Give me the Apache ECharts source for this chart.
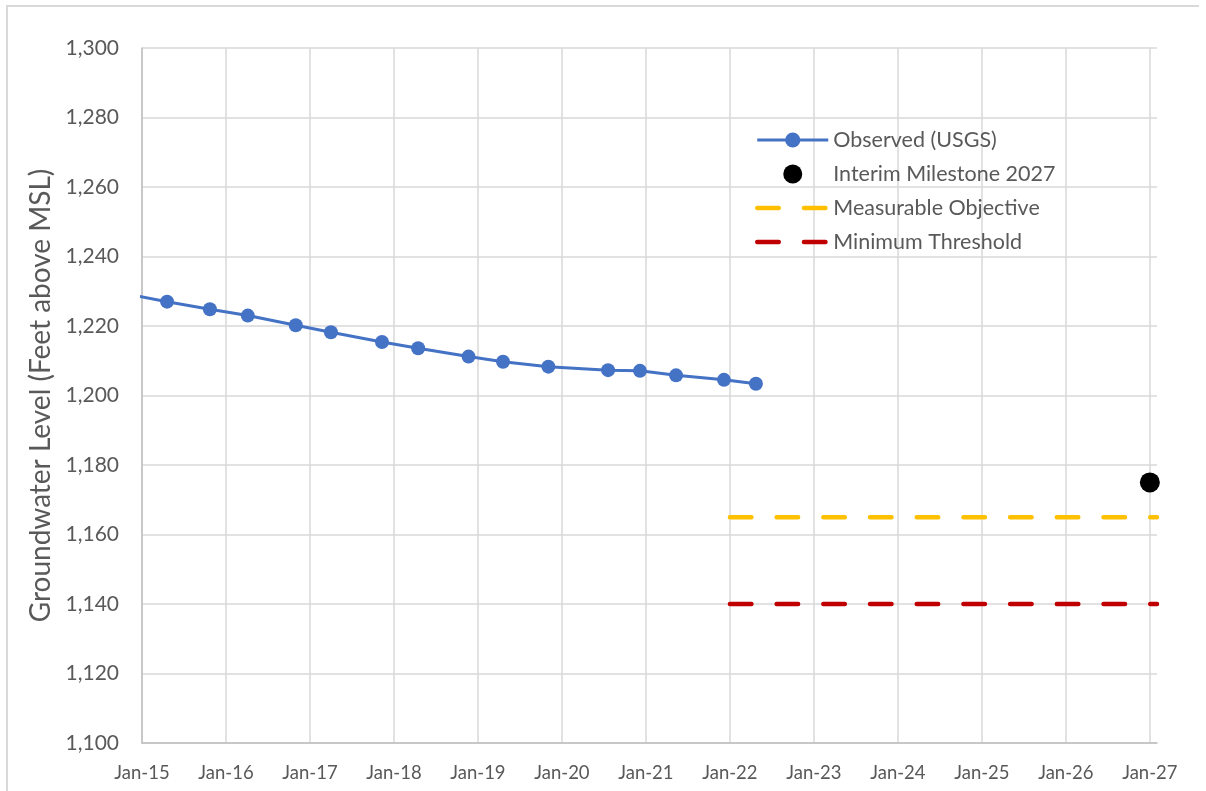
<!DOCTYPE html>
<html>
<head>
<meta charset="utf-8">
<script src="https://cdn.jsdelivr.net/npm/echarts@6/dist/echarts.min.js"></script>
<style>
  html, body { margin: 0; padding: 0; background: #fff; }
  #frame { position: absolute; left: 6px; top: 5px; width: 1191px; height: 800px;
           border-top: 2px solid #d9d9d9; border-left: 2px solid #d9d9d9; }
  #chart { position: absolute; left: 0; top: 0; width: 1206px; height: 791px; }
</style>
</head>
<body>
<div id="frame"></div>
<div id="chart"></div>
<script>
// observed water levels (USGS)
var obsDates = ['2014-10-20', '2015-04-20', '2015-10-23', '2016-04-05', '2016-10-31', '2017-04-02',
  '2017-11-10', '2018-04-16', '2018-11-21', '2019-04-20', '2019-11-03', '2020-07-20',
  '2020-12-06', '2021-05-12', '2021-12-06', '2022-04-24']
var obsValues = [1229.3, 1227.0, 1224.8, 1223.0, 1220.2, 1218.2, 1215.4, 1213.6, 1211.2,
  1209.7, 1208.3, 1207.3, 1207.1, 1205.8, 1204.5, 1203.4]

var milestoneDates = ['2027-01-01']
var milestoneValues = [1175]

var objectiveDates = ['2022-01-01', '2027-02-01']
var objectiveValues = [1165, 1165]

var thresholdDates = ['2022-01-01', '2027-02-01']
var thresholdValues = [1140, 1140]

var xStart = '2015-01-01'
var xEnd = '2027-02-01'
var yTicks = [1100, 1120, 1140, 1160, 1180, 1200, 1220, 1240, 1260, 1280, 1300]

var FONT = 'Lato'
var GREY = '#595959'
var DASH = [21.5, 25.2]

// date string -> fractional year
function toYear (s) {
  var p = s.split('-').map(Number)
  var y0 = Date.UTC(p[0], 0, 1)
  var y1 = Date.UTC(p[0] + 1, 0, 1)
  return p[0] + (Date.UTC(p[0], p[1] - 1, p[2]) - y0) / (y1 - y0)
}

function pairs (dates, vals) {
  return dates.map(function (d, i) { return [toYear(d), vals[i]] })
}

var chart = echarts.init(document.getElementById('chart'))

chart.setOption({
  animation: false,
  textStyle: { fontFamily: FONT },
  grid: { left: 142, right: 49, top: 48, bottom: 48 },
  legend: {
    orient: 'vertical',
    left: 750,
    top: 124,
    itemWidth: 71,
    itemHeight: 19,
    itemGap: 12,
    textStyle: { color: GREY, fontSize: 21.5, fontFamily: FONT },
    data: [
      { name: 'Observed (USGS)', lineStyle: { width: 3 } },
      { name: 'Interim Milestone 2027' },
      { name: 'Measurable Objective', lineStyle: { width: 4.5, type: DASH, cap: 'round' }, itemStyle: { opacity: 0 } },
      { name: 'Minimum Threshold', lineStyle: { width: 4.5, type: DASH, cap: 'round' }, itemStyle: { opacity: 0 } }
    ]
  },
  xAxis: {
    type: 'value',
    min: toYear(xStart),
    max: toYear(xEnd),
    interval: 1,
    axisLine: { show: true, onZero: false, lineStyle: { color: '#bfbfbf', width: 1.5 } },
    axisTick: { show: false },
    splitLine: { show: true, showMaxLine: false, lineStyle: { color: '#d9d9d9', width: 1.5 } },
    axisLabel: {
      color: GREY, fontSize: 18.5, margin: 21, showMaxLabel: false,
      formatter: function (v) {
        return Math.abs(v - Math.round(v)) < 1e-6 ? 'Jan-' + String(Math.round(v)).slice(2) : ''
      }
    }
  },
  yAxis: {
    type: 'value',
    min: yTicks[0],
    max: yTicks[yTicks.length - 1],
    interval: yTicks[1] - yTicks[0],
    name: 'Groundwater Level (Feet above MSL)',
    nameLocation: 'middle',
    nameGap: 86,
    nameTextStyle: { color: GREY, fontSize: 28, fontFamily: FONT },
    axisLine: { show: true, lineStyle: { color: '#bfbfbf', width: 1.5 } },
    axisTick: { show: false },
    splitLine: { lineStyle: { color: '#d9d9d9', width: 1.5 } },
    axisLabel: {
      color: GREY, fontSize: 21, margin: 23,
      formatter: function (v) { return v.toLocaleString('en-US') }
    }
  },
  series: [
    {
      name: 'Observed (USGS)',
      type: 'line',
      data: pairs(obsDates, obsValues),
      symbol: 'circle',
      symbolSize: 14,
      color: '#4472C4',
      lineStyle: { color: '#4472C4', width: 3 },
      z: 5
    },
    {
      name: 'Interim Milestone 2027',
      type: 'scatter',
      data: pairs(milestoneDates, milestoneValues),
      symbol: 'circle',
      symbolSize: 20,
      color: '#000000',
      itemStyle: { opacity: 1 },
      clip: false,
      z: 6
    },
    {
      name: 'Measurable Objective',
      type: 'line',
      data: pairs(objectiveDates, objectiveValues),
      symbol: 'none',
      color: '#FFC000',
      lineStyle: { color: '#FFC000', width: 4.5, type: DASH, cap: 'round' },
      z: 3
    },
    {
      name: 'Minimum Threshold',
      type: 'line',
      data: pairs(thresholdDates, thresholdValues),
      symbol: 'none',
      color: '#C00000',
      lineStyle: { color: '#C00000', width: 4.5, type: DASH, cap: 'round' },
      z: 3
    }
  ]
})
</script>
</body>
</html>
